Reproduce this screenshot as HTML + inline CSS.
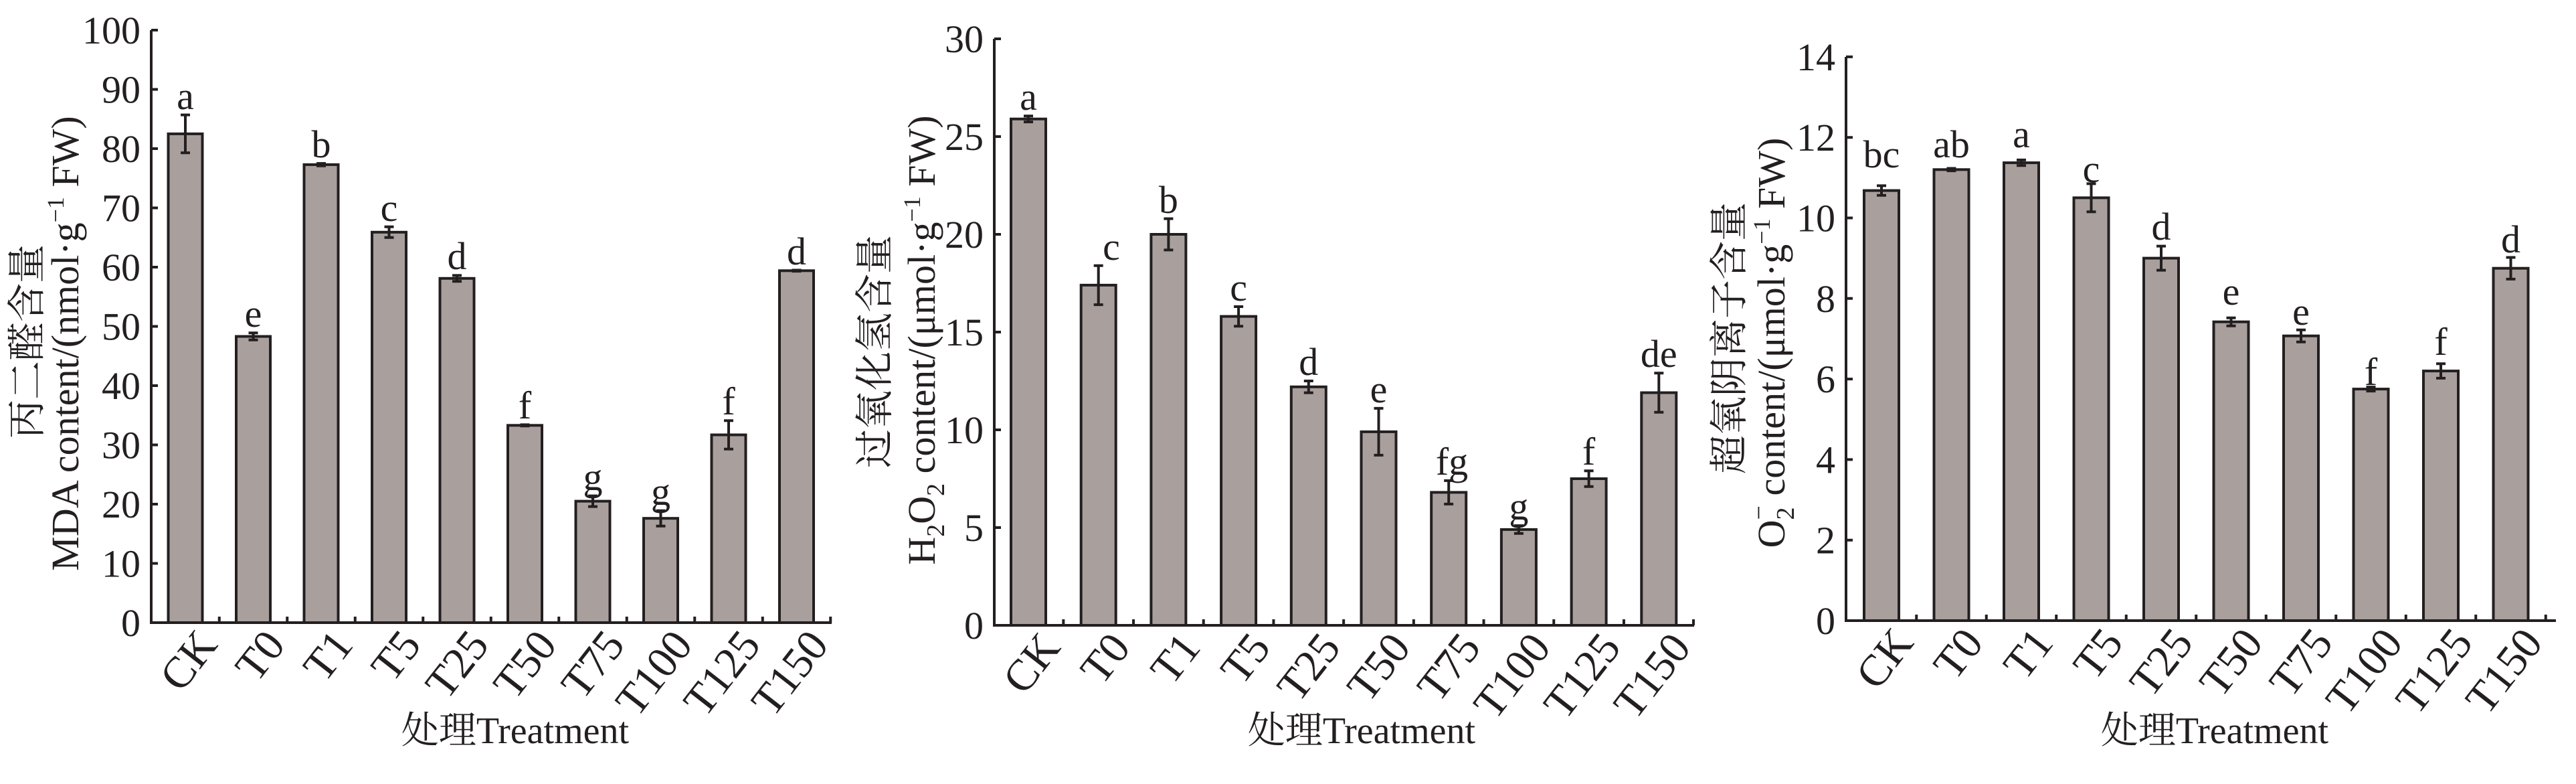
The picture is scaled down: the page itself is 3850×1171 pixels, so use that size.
<!DOCTYPE html>
<html><head><meta charset="utf-8"><style>
html,body{margin:0;padding:0;background:#fff;}
svg{display:block;}
text{font-family:"Liberation Serif","Noto Serif CJK SC","Noto Sans CJK SC",serif;fill:#231f20;}
.t{font-size:58px;}
.l{font-size:58px;text-anchor:middle;}
.y{font-size:58px;text-anchor:end;}
.c{font-size:66px;text-anchor:end;}
.b{fill:#a9a09e;stroke:#231f20;stroke-width:4;}
.ax{stroke:#231f20;stroke-width:4;fill:none;}
.e{stroke:#231f20;stroke-width:4;fill:none;}
</style></head><body>
<svg width="3850" height="1171" viewBox="0 0 3850 1171" xmlns="http://www.w3.org/2000/svg">
<rect width="3850" height="1171" fill="#fff"/>

<!-- ================= Chart 1 ================= -->
<g>
<path class="ax" d="M226,45 V930 H1243"/>
<path class="ax" d="M226,930h10M226,841.5h10M226,753h10M226,664.5h10M226,576h10M226,487.5h10M226,399h10M226,310.5h10M226,222h10M226,133.5h10M226,45h10"/>
<path class="ax" d="M327.75,930v-9M429.25,930v-9M530.75,930v-9M632.25,930v-9M733.75,930v-9M835.25,930v-9M936.75,930v-9M1038.25,930v-9M1139.75,930v-9M1241.25,930v-9"/>
<g class="y">
<text x="210" y="950">0</text><text x="210" y="861.5">10</text><text x="210" y="773">20</text><text x="210" y="684.5">30</text><text x="210" y="596">40</text><text x="210" y="507.5">50</text><text x="210" y="419">60</text><text x="210" y="330.5">70</text><text x="210" y="242">80</text><text x="210" y="153.5">90</text><text x="210" y="65">100</text>
</g>
<rect class="b" x="251.5" y="199.9" width="51" height="730.1"/>
<rect class="b" x="353" y="502.5" width="51" height="427.5"/>
<rect class="b" x="454.5" y="245.9" width="51" height="684.1"/>
<rect class="b" x="556" y="346.8" width="51" height="583.2"/>
<rect class="b" x="657.5" y="415.8" width="51" height="514.2"/>
<rect class="b" x="759" y="635.3" width="51" height="294.7"/>
<rect class="b" x="860.5" y="748.6" width="51" height="181.4"/>
<rect class="b" x="962" y="774.2" width="51" height="155.8"/>
<rect class="b" x="1063.5" y="649.5" width="51" height="280.5"/>
<rect class="b" x="1165" y="404.3" width="51" height="525.7"/>
<path class="e" d="M277,171.6V228.2M270,171.6h14M270,228.2h14
M378.5,497.2V507.8M371.5,497.2h14M371.5,507.8h14
M480,244.1V247.7M473,244.1h14M473,247.7h14
M581.5,338.8V354.8M574.5,338.8h14M574.5,354.8h14
M683,411.4V420.2M676,411.4h14M676,420.2h14
M784.5,634.4V636.2M777.5,634.4h14M777.5,636.2h14
M886,740.6V756.6M879,740.6h14M879,756.6h14
M987.5,762.7V785.7M980.5,762.7h14M980.5,785.7h14
M1089,628.3V670.7M1082,628.3h14M1082,670.7h14
M1190.5,403.5V405.1M1183.5,403.5h14M1183.5,405.1h14"/>
<g class="l">
<text x="277" y="163">a</text><text x="378.5" y="488">e</text><text x="480" y="235">b</text><text x="581.5" y="330">c</text><text x="683" y="402">d</text><text x="784.5" y="625">f</text><text x="886" y="732">g</text><text x="987.5" y="754">g</text><text x="1089" y="619">f</text><text x="1190.5" y="395">d</text>
</g>
<g class="c">
<text transform="translate(327,964) rotate(-52)">CK</text>
<text transform="translate(428.5,964) rotate(-52)">T0</text>
<text transform="translate(530,964) rotate(-52)">T1</text>
<text transform="translate(631.5,964) rotate(-52)">T5</text>
<text transform="translate(733,964) rotate(-52)">T25</text>
<text transform="translate(834.5,964) rotate(-52)">T50</text>
<text transform="translate(936,964) rotate(-52)">T75</text>
<text transform="translate(1037.5,964) rotate(-52)">T100</text>
<text transform="translate(1139,964) rotate(-52)">T125</text>
<text transform="translate(1240.5,964) rotate(-52)">T150</text>
</g>
<text class="l" x="770" y="1110" style="font-size:56px">处理Treatment</text>
<text class="l" transform="translate(60,510) rotate(-90)">丙二醛含量</text>
<text class="l" transform="translate(117,513) rotate(-90)">MDA content/(nmol·g<tspan dy="-22" style="font-size:36px">−1</tspan><tspan dy="22"> FW)</tspan></text>
</g>

<!-- ================= Chart 2 ================= -->
<g>
<path class="ax" d="M1486,58 V934 H2532"/>
<path class="ax" d="M1486,934h10M1486,788h10M1486,642h10M1486,496h10M1486,350h10M1486,204h10M1486,58h10"/>
<path class="ax" d="M1589.35,934v-9M1694.05,934v-9M1798.75,934v-9M1903.45,934v-9M2008.15,934v-9M2112.85,934v-9M2217.55,934v-9M2322.25,934v-9M2426.95,934v-9M2531,934v-9"/>
<g class="y">
<text x="1470" y="954">0</text><text x="1470" y="808">5</text><text x="1470" y="662">10</text><text x="1470" y="516">15</text><text x="1470" y="370">20</text><text x="1470" y="224">25</text><text x="1470" y="78">30</text>
</g>
<rect class="b" x="1511" y="177.7" width="52" height="756.3"/>
<rect class="b" x="1615.7" y="425.9" width="52" height="508.1"/>
<rect class="b" x="1720.4" y="350" width="52" height="584"/>
<rect class="b" x="1825.1" y="472.6" width="52" height="461.4"/>
<rect class="b" x="1929.8" y="577.8" width="52" height="356.2"/>
<rect class="b" x="2034.5" y="644.9" width="52" height="289.1"/>
<rect class="b" x="2139.2" y="735.4" width="52" height="198.6"/>
<rect class="b" x="2243.9" y="790.9" width="52" height="143.1"/>
<rect class="b" x="2348.6" y="715" width="52" height="219"/>
<rect class="b" x="2453.3" y="586.5" width="52" height="347.5"/>
<path class="e" d="M1537,173.3V182.1M1530,173.3h14M1530,182.1h14
M1641.7,396.7V455.1M1634.7,396.7h14M1634.7,455.1h14
M1746.4,326.6V373.4M1739.4,326.6h14M1739.4,373.4h14
M1851.1,458V487.2M1844.1,458h14M1844.1,487.2h14
M1955.8,569V586.6M1948.8,569h14M1948.8,586.6h14
M2060.5,609.9V679.9M2053.5,609.9h14M2053.5,679.9h14
M2165.2,717.9V752.9M2158.2,717.9h14M2158.2,752.9h14
M2269.9,785.1V796.7M2262.9,785.1h14M2262.9,796.7h14
M2374.6,703.3V726.7M2367.6,703.3h14M2367.6,726.7h14
M2479.3,557.3V615.7M2472.3,557.3h14M2472.3,615.7h14"/>
<g class="l">
<text x="1537" y="164">a</text><text x="1661" y="388">c</text><text x="1746.4" y="318">b</text><text x="1851.1" y="449">c</text><text x="1955.8" y="560">d</text><text x="2060.5" y="601">e</text><text x="2170" y="709">fg</text><text x="2269.9" y="776">g</text><text x="2374.6" y="694">f</text><text x="2479.3" y="548">de</text>
</g>
<g class="c">
<text transform="translate(1587,968) rotate(-52)">CK</text>
<text transform="translate(1691.7,968) rotate(-52)">T0</text>
<text transform="translate(1796.4,968) rotate(-52)">T1</text>
<text transform="translate(1901.1,968) rotate(-52)">T5</text>
<text transform="translate(2005.8,968) rotate(-52)">T25</text>
<text transform="translate(2110.5,968) rotate(-52)">T50</text>
<text transform="translate(2215.2,968) rotate(-52)">T75</text>
<text transform="translate(2319.9,968) rotate(-52)">T100</text>
<text transform="translate(2424.6,968) rotate(-52)">T125</text>
<text transform="translate(2529.3,968) rotate(-52)">T150</text>
</g>
<text class="l" x="2035" y="1110" style="font-size:56px">处理Treatment</text>
<text class="l" transform="translate(1327,525) rotate(-90)">过氧化氢含量</text>
<text class="l" transform="translate(1397,508) rotate(-90)">H<tspan dy="14" style="font-size:38px">2</tspan><tspan dy="-14">O</tspan><tspan dy="14" style="font-size:38px">2</tspan><tspan dy="-14"> content/(μmol·g</tspan><tspan dy="-22" style="font-size:36px">−1</tspan><tspan dy="22"> FW)</tspan></text>
</g>

<!-- ================= Chart 3 ================= -->
<g>
<path class="ax" d="M2759,85 V927 H3820"/>
<path class="ax" d="M2759,927h10M2759,806.7h10M2759,686.4h10M2759,566.1h10M2759,445.8h10M2759,325.5h10M2759,205.2h10M2759,84.9h10"/>
<path class="ax" d="M2864.25,927v-9M2968.75,927v-9M3073.25,927v-9M3177.75,927v-9M3282.25,927v-9M3386.75,927v-9M3491.25,927v-9M3595.75,927v-9M3700.25,927v-9M3804.75,927v-9"/>
<g class="y">
<text x="2743" y="947">0</text><text x="2743" y="826.7">2</text><text x="2743" y="706.4">4</text><text x="2743" y="586.1">6</text><text x="2743" y="465.8">8</text><text x="2743" y="345.5">10</text><text x="2743" y="225.2">12</text><text x="2743" y="104.9">14</text>
</g>
<rect class="b" x="2786" y="284.6" width="52" height="642.4"/>
<rect class="b" x="2890.5" y="253.3" width="52" height="673.7"/>
<rect class="b" x="2995" y="243.1" width="52" height="683.9"/>
<rect class="b" x="3099.5" y="295.4" width="52" height="631.6"/>
<rect class="b" x="3204" y="385.6" width="52" height="541.4"/>
<rect class="b" x="3308.5" y="480.7" width="52" height="446.3"/>
<rect class="b" x="3413" y="501.7" width="52" height="425.3"/>
<rect class="b" x="3517.5" y="581.1" width="52" height="345.9"/>
<rect class="b" x="3622" y="554.1" width="52" height="372.9"/>
<rect class="b" x="3726.5" y="400.7" width="52" height="526.3"/>
<path class="e" d="M2812,277.4V291.8M2805,277.4h14M2805,291.8h14
M2916.5,251.5V255.1M2909.5,251.5h14M2909.5,255.1h14
M3021,238.9V247.3M3014,238.9h14M3014,247.3h14
M3125.5,274.4V316.4M3118.5,274.4h14M3118.5,316.4h14
M3230,367.6V403.6M3223,367.6h14M3223,403.6h14
M3334.5,474.7V486.7M3327.5,474.7h14M3327.5,486.7h14
M3439,492.7V510.7M3432,492.7h14M3432,510.7h14
M3543.5,578.1V584.1M3536.5,578.1h14M3536.5,584.1h14
M3648,543.3V564.9M3641,543.3h14M3641,564.9h14
M3752.5,384.5V416.9M3745.5,384.5h14M3745.5,416.9h14"/>
<g class="l">
<text x="2812" y="250">bc</text><text x="2916.5" y="235">ab</text><text x="3021" y="220">a</text><text x="3125.5" y="272">c</text><text x="3230" y="358">d</text><text x="3334.5" y="455">e</text><text x="3439" y="485">e</text><text x="3543.5" y="575">f</text><text x="3648" y="530">f</text><text x="3752.5" y="377">d</text>
</g>
<g class="c">
<text transform="translate(2862,961) rotate(-52)">CK</text>
<text transform="translate(2966.5,961) rotate(-52)">T0</text>
<text transform="translate(3071,961) rotate(-52)">T1</text>
<text transform="translate(3175.5,961) rotate(-52)">T5</text>
<text transform="translate(3280,961) rotate(-52)">T25</text>
<text transform="translate(3384.5,961) rotate(-52)">T50</text>
<text transform="translate(3489,961) rotate(-52)">T75</text>
<text transform="translate(3593.5,961) rotate(-52)">T100</text>
<text transform="translate(3698,961) rotate(-52)">T125</text>
<text transform="translate(3802.5,961) rotate(-52)">T150</text>
</g>
<text class="l" x="3310" y="1110" style="font-size:56px">处理Treatment</text>
<text class="l" transform="translate(2604,505) rotate(-90)">超氧阴离子含量</text>
<text class="l" transform="translate(2667,512) rotate(-90)">O<tspan dy="14" style="font-size:38px">2</tspan><tspan dx="-19" dy="-40" style="font-size:38px">−</tspan><tspan dy="26">  content/(μmol·g</tspan><tspan dy="-22" style="font-size:36px">−1</tspan><tspan dy="22"> FW)</tspan></text>
</g>
</svg>
</body></html>
